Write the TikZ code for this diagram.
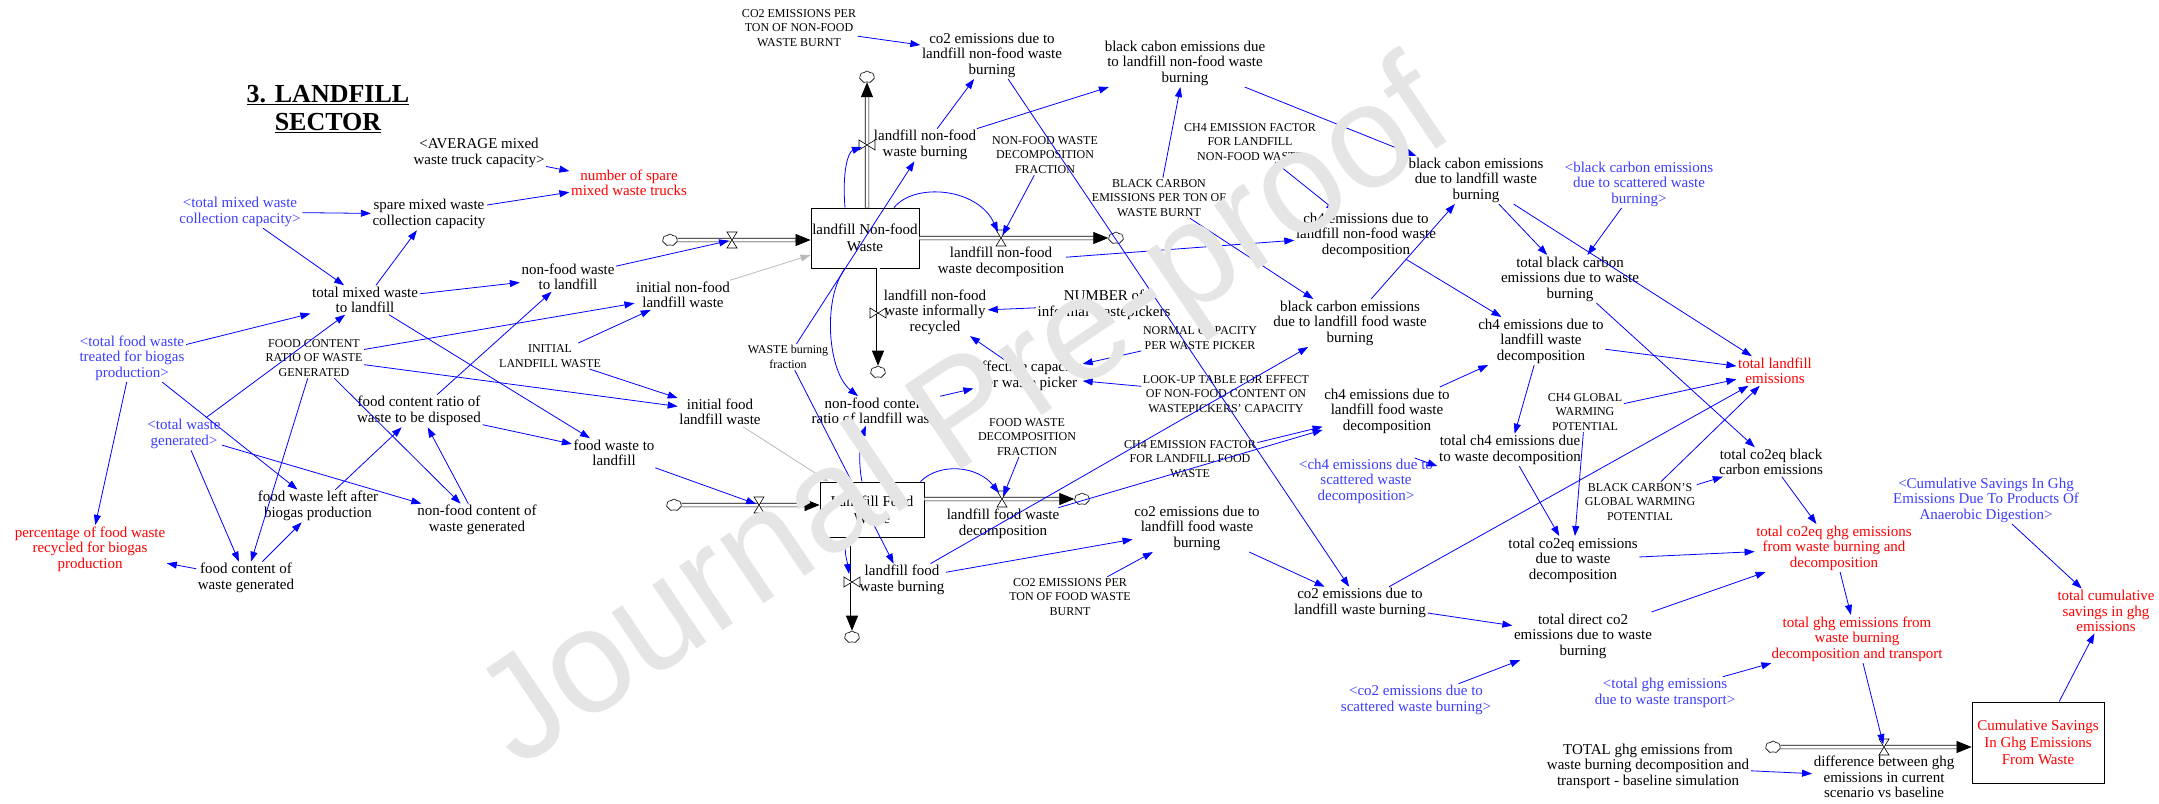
\documentclass[tikz,border=0pt]{standalone}
\usepackage{fontspec}
\setmainfont{Liberation Serif}
\newfontfamily\wmfont{Liberation Sans}
\usetikzlibrary{arrows.meta,shapes.symbols,calc}
\definecolor{shblue}{RGB}{60,60,255}
\definecolor{lnblue}{RGB}{0,0,255}
\definecolor{vred}{RGB}{255,0,0}
\definecolor{lgray}{RGB}{185,185,185}
\definecolor{wmgray}{RGB}{229,229,229}
\tikzset{
  var/.style={align=center, inner sep=1.5pt, font=\fontsize{15}{15.5}\selectfont},
  cst/.style={align=center, inner sep=1.5pt, font=\fontsize{12}{14.5}\selectfont},
  shv/.style={var, text=shblue},
  outv/.style={var, text=vred},
  link/.style={draw=lnblue, line width=0.8pt, -{Triangle[length=10pt,width=7pt]}},
  glink/.style={draw=lgray, line width=0.8pt, -{Triangle[length=10pt,width=7pt]}},
  stockbox/.style={draw=black, line width=0.9pt, align=center, inner sep=1pt, font=\fontsize{15}{17}\selectfont},
  pipe/.style={draw=black, line width=0.7pt, double=white, double distance=3pt, -{Triangle[length=15pt,width=12pt]}},
  cloudnode/.style={cloud, cloud puffs=7, cloud puff arc=110, aspect=1.25, draw=black, line width=0.6pt, fill=white, minimum width=15pt, minimum height=12pt, inner sep=0pt},
  hvalve/.pic={\filldraw[fill=white,draw=black,line width=0.6pt] (-5,-8)--(5,-8)--(0,0)--cycle (-5,8)--(5,8)--(0,0)--cycle;},
  vvalve/.pic={\filldraw[fill=white,draw=black,line width=0.6pt] (-8,-5)--(-8,5)--(0,0)--cycle (8,-5)--(8,5)--(0,0)--cycle;},
}
\begin{document}
\begin{tikzpicture}[x=1pt,y=-1pt]
\useasboundingbox (0,0) rectangle (2159,803);

% ---------- stocks, clouds, valves ----------
\node[stockbox, minimum width=108pt, minimum height=60pt] (sNF) at (865,238) {landfill Non-food\\Waste};
\node[stockbox, minimum width=104pt, minimum height=55pt] (sF) at (872,509.5) {Landfill Food\\Waste};
\node[stockbox, minimum width=132pt, minimum height=81pt, text=vred] (sS) at (2038,742.5) {Cumulative Savings\\In Ghg Emissions\\From Waste};

\node[cloudnode] (cA) at (867,77) {};
\node[cloudnode] (cB) at (670,240) {};
\node[cloudnode] (cC) at (1116,238) {};
\node[cloudnode] (cD) at (878,372) {};
\node[cloudnode] (cE) at (674,505) {};
\node[cloudnode] (cF) at (1082,499) {};
\node[cloudnode] (cG) at (852,637) {};
\node[cloudnode] (cH) at (1773,747) {};

\coordinate (vNFin) at (732,240);
\coordinate (vNFd) at (1001,238);
\coordinate (vNFb) at (867,145);
\coordinate (vNFr) at (878,313);
\coordinate (vFin) at (759,505);
\coordinate (vFd) at (1002,499);
\coordinate (vFb) at (852,582);
\coordinate (vS) at (1884,747);

\draw[pipe] (cB) -- (sNF.west |- vNFin);
\draw[pipe] (sNF.east |- vNFd) -- (cC);
\draw[pipe] (sNF.north -| vNFb) -- (cA);
\draw[pipe] (sNF.south -| vNFr) -- (cD);
\draw[pipe] (cE) -- (sF.west |- vFin);
\draw[pipe] (sF.east |- vFd) -- (cF);
\draw[pipe] (sF.south -| vFb) -- (cG);
\draw[pipe] (cH) -- (sS.west |- vS);

\pic at (vNFin) {hvalve};
\pic at (vNFd) {hvalve};
\pic at (vNFb) {vvalve};
\pic at (vNFr) {vvalve};
\pic at (vFin) {hvalve};
\pic at (vFd) {hvalve};
\pic at (vFb) {vvalve};
\pic at (vS) {hvalve};

% ---------- left variables ----------
\node[font=\fontsize{26}{28}\selectfont\bfseries, align=center] (title) at (328,109) {\underline{3. LANDFILL}\\\underline{SECTOR}};
\node[var] (avg) at (479,153) {<AVERAGE mixed\\waste truck capacity>};
\node[outv] (nst) at (629,183) {number of spare\\mixed waste trucks};
\node[shv] (tmc) at (240,212) {<total mixed waste\\collection capacity>};
\node[var] (spare) at (429,214) {spare mixed waste\\collection capacity};
\node[var] (tmw) at (365,300) {total mixed waste\\to landfill};
\node[var] (nfw) at (568,277) {non-food waste\\to landfill};
\node[var] (inf) at (683,295) {initial non-food\\landfill waste};
\node[shv] (tfw) at (132,358) {<total food waste\\treated for biogas\\production>};
\node[cst] (fcr) at (314,358) {FOOD CONTENT\\RATIO OF WASTE\\GENERATED};
\node[cst] (ilw) at (550,356) {INITIAL\\LANDFILL WASTE};
\node[var] (ifl) at (720,412) {initial food\\landfill waste};
\node[var] (fcd) at (419,411) {food content ratio of\\waste to be disposed};
\node[shv] (twg) at (184,434) {<total waste\\generated>};
\node[var] (fwl) at (614,453) {food waste to\\landfill};
\node[var] (fla) at (318,506) {food waste left after\\biogas production};
\node[var] (nfc) at (477,520) {non-food content of\\waste generated};
\node[outv] (pct) at (90,549) {percentage of food waste\\recycled for biogas\\production};
\node[var] (fcg) at (246,578) {food content of\\waste generated};

% ---------- middle variables ----------
\node[cst] (co2pnf) at (799,28) {CO2 EMISSIONS PER\\TON OF NON-FOOD\\WASTE BURNT};
\node[var] (co2nf) at (992,55) {co2 emissions due to\\landfill non-food waste\\burning};
\node[var] (bcnf) at (1185,63) {black cabon emissions due\\to landfill non-food waste\\burning};
\node[var] (nfb) at (925,145) {landfill non-food\\waste burning};
\node[cst] (nfdf) at (1045,155) {NON-FOOD WASTE\\DECOMPOSITION\\FRACTION};
\node[cst] (ch4efnf) at (1250,142) {CH4 EMISSION FACTOR\\FOR LANDFILL\\NON-FOOD WASTE};
\node[var] (nfd) at (1001,262) {landfill non-food\\waste decomposition};
\node[cst] (bcpt) at (1159,198) {BLACK CARBON\\EMISSIONS PER TON OF\\WASTE BURNT};
\node[var] (bcl) at (1476,180) {black cabon emissions\\due to landfill waste\\burning};
\node[var] (ch4nf) at (1366,235) {ch4 emissions due to\\landfill non-food waste\\decomposition};
\node[shv] (bcs) at (1639,184) {<black carbon emissions\\due to scattered waste\\burning>};
\node[var] (tbc) at (1570,279) {total black carbon\\emissions due to waste\\burning};
\node[var] (nfr) at (935,312) {landfill non-food\\waste informally\\recycled};
\node[var] (num) at (1104,305) {NUMBER of\\informal wastepickers};
\node[cst] (wbf) at (788,357) {WASTE burning\\fraction};
\node[var] (nfcr) at (876,411) {non-food content\\ratio of landfill waste};
\node[var] (ecp) at (1028,376) {effective capacity\\per waste picker};
\node[cst] (ncp) at (1200,338) {NORMAL CAPACITY\\PER WASTE PICKER};
\node[cst] (lut) at (1226,394) {LOOK-UP TABLE FOR EFFECT\\OF NON-FOOD CONTENT ON\\WASTEPICKERS' CAPACITY};
\node[cst] (fwdf) at (1027,437) {FOOD WASTE\\DECOMPOSITION\\FRACTION};
\node[var] (fd) at (1003,524) {landfill food waste\\decomposition};
\node[var] (fb) at (902,580) {landfill food\\waste burning};
\node[var] (bcf) at (1350,323) {black carbon emissions\\due to landfill food waste\\burning};
\node[var] (ch4l) at (1541,341) {ch4 emissions due to\\landfill waste\\decomposition};
\node[var] (ch4f) at (1387,411) {ch4 emissions due to\\landfill food waste\\decomposition};
\node[cst] (ch4eff) at (1190,459) {CH4 EMISSION FACTOR\\FOR LANDFILL FOOD\\WASTE};
\node[shv] (ch4s) at (1366,481) {<ch4 emissions due to\\scattered waste\\decomposition>};
\node[var] (tch4) at (1510,450) {total ch4 emissions due\\to waste decomposition};
\node[cst] (ch4gwp) at (1585,412) {CH4 GLOBAL\\WARMING\\POTENTIAL};
\node[cst] (bcgwp) at (1640,502) {BLACK CARBON'S\\GLOBAL WARMING\\POTENTIAL};
\node[outv] (tle) at (1775,371) {total landfill\\emissions};
\node[var] (tco2bc) at (1771,462) {total co2eq black\\carbon emissions};
\node[outv] (tghg) at (1834,548) {total co2eq ghg emissions\\from waste burning and\\decomposition};
\node[shv] (csa) at (1986,500) {<Cumulative Savings In Ghg\\Emissions Due To Products Of\\Anaerobic Digestion>};
\node[outv] (tcs) at (2106,611) {total cumulative\\savings in ghg\\emissions};
\node[var] (tco2d) at (1573,560) {total co2eq emissions\\due to waste\\decomposition};
\node[var] (tdco2) at (1583,636) {total direct co2\\emissions due to waste\\burning};
\node[var] (co2l) at (1360,603) {co2 emissions due to\\landfill waste burning};
\node[var] (co2f) at (1197,528) {co2 emissions due to\\landfill food waste\\burning};
\node[cst] (co2pf) at (1070,597) {CO2 EMISSIONS PER\\TON OF FOOD WASTE\\BURNT};
\node[shv] (co2s) at (1416,700) {<co2 emissions due to\\scattered waste burning>};
\node[shv] (tgt) at (1665,693) {<total ghg emissions\\due to waste transport>};
\node[outv] (tgw) at (1857,639) {total ghg emissions from\\waste burning\\decomposition and transport};
\node[var] (diff) at (1884,777) {difference between ghg\\emissions in current\\scenario vs baseline};
\node[var] (base) at (1648,766) {TOTAL ghg emissions from\\waste burning decomposition and\\transport - baseline simulation};

% ---------- links: left ----------
\draw[link] (tmc) -- (spare);
\draw[link] (tmc) -- (tmw);
\draw[link] (tmw) -- (spare);
\draw[link] (avg) -- (nst);
\draw[link] (spare) -- (nst);
\draw[link] (tmw) -- (nfw);
\draw[link] (tmw) -- (fwl);
\draw[link] (tfw) -- (tmw);
\draw[link] (twg) -- (tmw);
\draw[link] (fcr) -- (inf);
\draw[link] (fcr) -- (ifl);
\draw[link] (ilw) -- (inf);
\draw[link] (ilw) -- (ifl);
\draw[link] (fcd) -- (nfw);
\draw[link] (fcd) -- (fwl);
\draw[link] (tfw) -- (fla);
\draw[link] (tfw) -- (pct);
\draw[link] (twg) -- (nfc);
\draw[link] (twg) -- (fcg);
\draw[link] (fcr) -- (fcg);
\draw[link] (fcr) -- (nfc);
\draw[link] (nfc) -- (fcd);
\draw[link] (fla) -- (fcd);
\draw[link] (fcg) -- (fla);
\draw[link] (fcg) -- (pct);
\draw[link, shorten >=3pt] (nfw) -- (vNFin);
\draw[link, shorten >=3pt] (fwl) -- (vFin);
\draw[glink] (inf) -- (sNF);
\draw[glink] (ifl) -- (sF);

% ---------- links: middle ----------
\draw[link] (co2pnf) -- (co2nf);
\draw[link] (nfb) -- (co2nf);
\draw[link] (nfb) -- (bcnf);
\draw[link] (co2nf) -- (co2l);
\draw[link] (bcpt) -- (bcnf);
\draw[link] (bcpt) -- (bcf);
\draw[link] (bcnf) -- (bcl);
\draw[link] (ch4efnf) -- (ch4nf);
\draw[link] (nfd) -- (ch4nf);
\draw[link, shorten >=3pt] (nfdf) -- (vNFd);
\draw[link] ($(sNF.north)+(29,0)$) .. controls (915,182) and (978,188) .. ($(vNFd)+(-3,-6)$);
\draw[link] ($(sNF.north)+(-20,0)$) .. controls (842,172) and (848,152) .. ($(vNFb)+(-5,2)$);
\draw[link] (wbf) -- (nfb);
\draw[link] (wbf) -- (fb);
\draw[link] ($(sNF.south)+(-20,0)$) .. controls (822,300) and (828,372) .. ($(nfcr.north)+(-18,0)$);
\draw[link] ($(sF.north)+(-10,0)$) .. controls (858,462) and (860,440) .. ($(nfcr.south)+(-10,0)$);
\draw[link] (nfcr) -- (ecp);
\draw[link] (ecp) -- (nfr);
\draw[link] (num) -- (nfr);
\draw[link] (ncp) -- (ecp);
\draw[link] (lut) -- (ecp);
\draw[link, shorten >=3pt] (fwdf) -- (vFd);
\draw[link] ($(sF.north east)+(-4,0)$) .. controls (940,462) and (978,466) .. ($(vFd)+(-3,-6)$);
\draw[link] ($(sF.south)+(-25,0)$) .. controls (843,550) and (847,560) .. ($(vFb)+(-3,-8)$);
\draw[link] (fb) -- (bcf);
\draw[link] (fb) -- (co2f);
\draw[link] (fd) -- (ch4f);
\draw[link] (ch4eff) -- (ch4f);
\draw[link] (co2pf) -- (co2f);
\draw[link] (co2f) -- (co2l);
\draw[link] (bcf) -- (bcl);

% ---------- links: right ----------
\draw[link] (ch4nf) -- (ch4l);
\draw[link] (ch4f) -- (ch4l);
\draw[link] (bcl) -- (tbc);
\draw[link] (bcl) -- (tle);
\draw[link] (bcs) -- (tbc);
\draw[link] (ch4l) -- (tle);
\draw[link] (ch4l) -- (tch4);
\draw[link] ($(ch4s.north east)+(-20,1)$) -- (tch4.south west);
\draw[link] (tch4) -- (tco2d);
\draw[link] (ch4gwp) -- (tco2d);
\draw[link] (ch4gwp) -- (tle);
\draw[link] (bcgwp) -- (tle);
\draw[link] (bcgwp) -- (tco2bc);
\draw[link] (co2l) -- (tle);
\draw[link] (co2l) -- (tdco2);
\draw[link] (tbc) -- (tco2bc);
\draw[link] (tco2bc) -- (tghg);
\draw[link] (tco2d) -- (tghg);
\draw[link] (tdco2) -- (tghg);
\draw[link] (co2s) -- (tdco2);
\draw[link] (tgt) -- (tgw);
\draw[link] (tghg) -- (tgw);
\draw[link, shorten >=3pt] (tgw) -- (vS);
\draw[link] (base) -- (diff);
\draw[link] (csa) -- (tcs);
\draw[link] (sS) -- (tcs);

% ---------- watermark ----------
\node[rotate=34, text=wmgray, font=\wmfont\fontsize{147}{147}\selectfont] (wm) at (968,420) {Journal Pre-proof};
\end{tikzpicture}
\end{document}
